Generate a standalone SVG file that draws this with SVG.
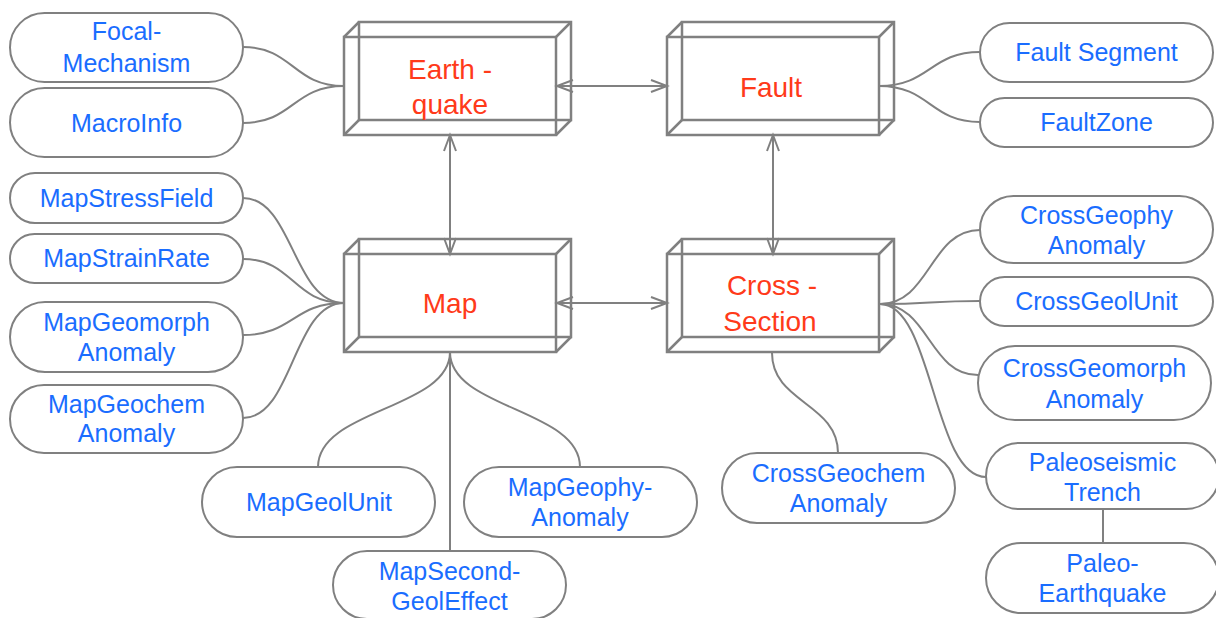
<svg xmlns="http://www.w3.org/2000/svg" width="1216" height="618" viewBox="0 0 1216 618">
<style>
.bx{fill:none;stroke:#808080;stroke-width:2.5}
.pill{fill:#fff;stroke:#808080;stroke-width:2}
.ln{fill:none;stroke:#808080;stroke-width:2}
.ar{fill:none;stroke:#808080;stroke-width:2;marker-start:url(#arr);marker-end:url(#arr)}
.rt{font-family:"Liberation Sans",Arial,sans-serif;font-size:28px;fill:#ff3a1a;text-anchor:middle}
.bt{font-family:"Liberation Sans",Arial,sans-serif;font-size:25px;fill:#1a6dff;text-anchor:middle}
</style>
<defs>
<marker id="arr" viewBox="0 0 16 12" refX="16" refY="6" markerWidth="16" markerHeight="12" markerUnits="userSpaceOnUse" orient="auto-start-reverse" overflow="visible">
<path d="M0,0 L16,6 L0,12" fill="none" stroke="#808080" stroke-width="2"/>
</marker>
<g id="box">
<rect x="15" y="0" width="212" height="98" class="bx"/>
<rect x="0" y="15" width="212" height="98" class="bx"/>
<path d="M0,15 L15,0 M212,15 L227,0 M0,113 L15,98 M212,113 L227,98" class="bx"/>
</g>
</defs>
<rect width="1216" height="618" fill="#fff"/>
<g id="connectors">
<path class="ln" d="M243,47 C293,47 293,86 344,86"/>
<path class="ln" d="M243,123 C293,123 293,86 344,86"/>
<path class="ln" d="M879,86 C930,86 930,52 980,52"/>
<path class="ln" d="M879,86 C930,86 930,122 980,122"/>
<path class="ln" d="M243,198 C293,198 293,303 344,303"/>
<path class="ln" d="M243,259 C293,259 293,303 344,303"/>
<path class="ln" d="M243,335 C293,335 293,303 344,303"/>
<path class="ln" d="M243,418 C293,418 293,303 344,303"/>
<path class="ln" d="M318,467 C318,409 450,409 450,352"/>
<path class="ln" d="M580,467 C580,409 450,409 450,352"/>
<path class="ln" d="M450,551 L450,352"/>
<path class="ln" d="M880,304 C930,304 930,230 980,230"/>
<path class="ln" d="M880,304 C930,304 930,301 980,301"/>
<path class="ln" d="M880,304 C929,304 929,375 978,375"/>
<path class="ln" d="M880,304 C933,304 933,477 986,477"/>
<path class="ln" d="M1103,509 L1103,543"/>
<path class="ln" d="M772,353 C772,403 838,403 838,453"/>
<path class="ar" d="M557,86 L667,86"/>
<path class="ar" d="M557,303 L667,303"/>
<path class="ar" d="M450,135 L450,254"/>
<path class="ar" d="M773,135 L773,254"/>
</g>
<g id="earthquake"><use href="#box" x="344" y="22"/><text class="rt" x="450" y="79">Earth -</text><text class="rt" x="450" y="114">quake</text></g>
<g id="fault"><use href="#box" x="667" y="22"/><text class="rt" x="771" y="97">Fault</text></g>
<g id="map"><use href="#box" x="344" y="239"/><text class="rt" x="450" y="313">Map</text></g>
<g id="cross-section"><use href="#box" x="667" y="239"/><text class="rt" x="772" y="295">Cross -</text><text class="rt" x="770" y="331">Section</text></g>
<g id="focal-mechanism"><rect class="pill" x="10" y="13" width="233" height="69" rx="34.5"/><text class="bt" x="126.5" y="40">Focal-</text><text class="bt" x="126.5" y="72">Mechanism</text></g>
<g id="macroinfo"><rect class="pill" x="10" y="88" width="233" height="69" rx="34.5"/><text class="bt" x="126.5" y="131.5">MacroInfo</text></g>
<g id="mapstressfield"><rect class="pill" x="10" y="173" width="233" height="50" rx="25"/><text class="bt" x="126.5" y="206.5">MapStressField</text></g>
<g id="mapstrainrate"><rect class="pill" x="10" y="234" width="233" height="49" rx="24.5"/><text class="bt" x="126.5" y="267">MapStrainRate</text></g>
<g id="mapgeomorph"><rect class="pill" x="10" y="302" width="233" height="70" rx="35"/><text class="bt" x="126.5" y="331">MapGeomorph</text><text class="bt" x="126.5" y="361">Anomaly</text></g>
<g id="mapgeochem"><rect class="pill" x="10" y="385" width="233" height="68" rx="34"/><text class="bt" x="126.5" y="413">MapGeochem</text><text class="bt" x="126.5" y="442">Anomaly</text></g>
<g id="mapgeolunit"><rect class="pill" x="202" y="467" width="233" height="70" rx="35"/><text class="bt" x="319" y="511">MapGeolUnit</text></g>
<g id="mapgeophy"><rect class="pill" x="464" y="467" width="233" height="70" rx="35"/><text class="bt" x="580" y="496">MapGeophy-</text><text class="bt" x="580" y="526">Anomaly</text></g>
<g id="mapsecond"><rect class="pill" x="333" y="551" width="233" height="68" rx="34"/><text class="bt" x="449.5" y="580">MapSecond-</text><text class="bt" x="449.5" y="610">GeolEffect</text></g>
<g id="faultsegment"><rect class="pill" x="980" y="23" width="233" height="59" rx="29.5"/><text class="bt" x="1096.5" y="61">Fault Segment</text></g>
<g id="faultzone"><rect class="pill" x="980" y="98" width="233" height="49" rx="24.5"/><text class="bt" x="1096.5" y="131">FaultZone</text></g>
<g id="crossgeophy"><rect class="pill" x="980" y="196" width="233" height="67" rx="33.5"/><text class="bt" x="1096.5" y="224">CrossGeophy</text><text class="bt" x="1096.5" y="253.5">Anomaly</text></g>
<g id="crossgeolunit"><rect class="pill" x="980" y="277" width="233" height="49" rx="24.5"/><text class="bt" x="1096.5" y="310">CrossGeolUnit</text></g>
<g id="crossgeomorph"><rect class="pill" x="978" y="346" width="233" height="74" rx="37"/><text class="bt" x="1094.5" y="377">CrossGeomorph</text><text class="bt" x="1094.5" y="407.5">Anomaly</text></g>
<g id="paleoseismic"><rect class="pill" x="986" y="443" width="233" height="66" rx="33"/><text class="bt" x="1102.5" y="471">Paleoseismic</text><text class="bt" x="1102.5" y="501">Trench</text></g>
<g id="paleoearthquake"><rect class="pill" x="986" y="543" width="233" height="70" rx="35"/><text class="bt" x="1102.5" y="572">Paleo-</text><text class="bt" x="1102.5" y="602">Earthquake</text></g>
<g id="crossgeochem"><rect class="pill" x="722" y="453" width="233" height="70" rx="35"/><text class="bt" x="838.5" y="482">CrossGeochem</text><text class="bt" x="838.5" y="512">Anomaly</text></g>
</svg>
